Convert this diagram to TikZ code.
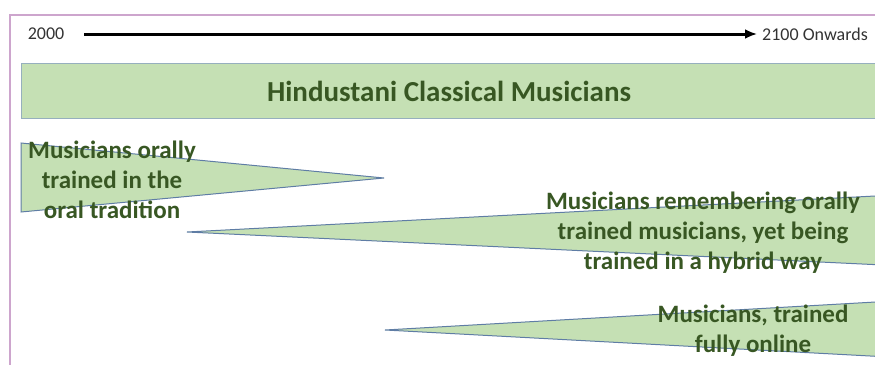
\documentclass[tikz,border=0pt]{standalone}
\usepackage{fontspec}
\setmainfont{Carlito}
\usetikzlibrary{arrows.meta,positioning}
\definecolor{hcgreen}{RGB}{197,224,180}
\definecolor{hctext}{RGB}{56,87,35}
\definecolor{hcedge}{RGB}{95,125,165}
\definecolor{hcbar}{RGB}{150,175,190}
\definecolor{hcframe}{RGB}{205,165,205}
\tikzset{
  ylbl/.style={font=\fontsize{18}{20}\selectfont, text=black!80, inner sep=0pt},
  tarr/.style={-{Latex[length=12pt,width=10pt]}, line width=3pt},
  wedge/.style={fill=hcgreen, draw=hcedge, line width=1pt},
  wtxt/.style={font=\fontsize{25}{30}\selectfont\bfseries, text=hctext, align=center, inner sep=0pt},
}

\begin{document}
\begin{tikzpicture}[x=1pt,y=-1pt]
    \useasboundingbox (0,0) rectangle (875,364);
    % frame
    \draw[hcframe, line width=1.5pt] (10,15) rectangle (900,390);
    % time line
    \node[ylbl](y2000) at (46,34){2000};
    \node[ylbl,anchor=west](y2100) at (762,34){2100 Onwards};
    \draw[tarr, shorten <=20pt, shorten >=5pt](y2000)--(y2100);
    % title bar
    \draw[fill=hcgreen, draw=hcbar, line width=0.8pt] (21,63) rectangle (900,118);
    \node[wtxt, font=\fontsize{29}{30}\selectfont\bfseries](title) at (449,91){Hindustani Classical Musicians};
    % wedges
    \draw[wedge] (21,143) -- (384,178) -- (21,212) -- cycle;
    \draw[wedge] (187,232) -- (900,194.7) -- (900,265.8) -- cycle;
    \draw[wedge] (385,330) -- (900,300.6) -- (900,357.6) -- cycle;
    % wedge texts
    \node[wtxt](oral) at (112,180){Musicians orally\\trained in the\\oral tradition};
    \node[wtxt](hybrid) at (703,233){Musicians remembering orally\\trained musicians, yet being\\trained in a hybrid way};
    \node[wtxt](online) at (753,331){Musicians, trained\\fully online};
\end{tikzpicture}
\end{document}
